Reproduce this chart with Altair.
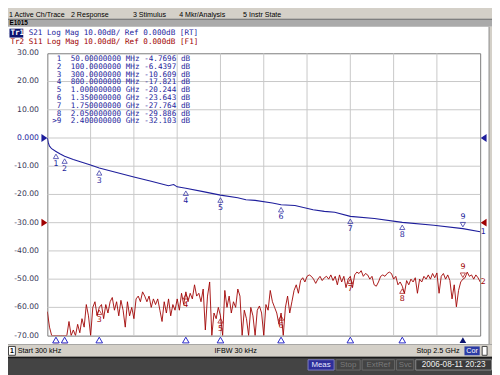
import altair as alt
import pandas as pd

# reference pixel of the plot origin (top-left of the graticule)
OX, OY = 48, 51
PW, PH = 440, 287

BLUE = "#1e1e9c"
RED = "#a00000"
NAVY = "#0c1470"
PANEL = "#d4d0c8"
LBL = "#383858"

# ---------------- data ----------------
START_GHZ, STOP_GHZ = 0.0003, 2.5

s21_freq = [0.0003, 0.005, 0.012, 0.025, 0.05, 0.075, 0.1, 0.15, 0.2, 0.25, 0.3,
            0.4, 0.5, 0.6, 0.7, 0.73, 0.75, 0.8, 0.9, 1.0, 1.1, 1.147, 1.2, 1.3,
            1.35, 1.43, 1.535, 1.6, 1.66, 1.75, 1.889, 2.05, 2.232, 2.4, 2.5]
s21_db = [0.0, -1.5, -2.8, -3.8, -4.77, -5.7, -6.44, -7.6, -8.6, -9.6, -10.61,
          -12.2, -13.8, -15.3, -16.9, -16.5, -17.3, -17.82, -19.0, -20.24, -21.2, -21.9,
          -22.1, -23.0, -23.64, -23.9, -25.4, -26.0, -26.3, -27.76, -28.5, -29.89,
          -30.9, -32.1, -33.2]

s11_db = [
    -61.5, -67, -70, -70, -70, -70, -70, -70, -70, -70,
    -65, -70, -68, -70, -66, -69, -64, -67, -59, -63,
    -70, -60, -58, -63, -60, -59, -64, -59, -62, -58,
    -56.5, -61, -58, -63, -57.5, -61, -67, -58, -63, -60,
    -64, -57, -56, -58, -54.5, -56, -58, -56, -60, -57,
    -59, -57, -61, -65, -58, -62, -57, -63, -59, -61,
    -57, -61, -55, -59, -54.5, -58, -55, -57, -52, -56,
    -55, -58, -53.5, -68, -56, -51, -70, -62, -64, -60,
    -63, -70, -54, -60, -56, -62, -58, -60, -53.5, -56,
    -70, -61, -64, -70, -60, -63, -70, -61, -59.5, -62,
    -70, -59, -61, -54, -58, -60, -62, -66, -62, -70,
    -60, -56, -62, -58, -54, -52, -55, -50.5, -49.5, -51,
    -49, -48.5, -49, -50, -51.5, -50, -49, -50.5, -49.5, -49,
    -50, -48.5, -50.5, -49, -52, -48.5, -51, -49, -53, -50,
    -49, -53, -48.5, -47.5, -48, -47, -49, -48, -48.5, -50,
    -49, -52, -52.5, -51, -49, -48.5, -49, -48, -47.5, -48,
    -50, -49, -52, -51, -52.5, -55, -50.5, -52, -50, -51,
    -49.5, -55, -50, -51, -49, -50, -48.5, -50, -48, -49.5,
    -47.8, -55, -49, -48, -50, -48.5, -50.5, -57, -52, -59.8,
    -54, -51, -50, -49.5, -47.5, -49, -48.5, -50, -48.5, -49.5,
    -51,
]
n_pts = len(s11_db)
s11_freq = [START_GHZ + i * (STOP_GHZ - START_GHZ) / (n_pts - 1) for i in range(n_pts)]

marker_ids = ["1", "2", "3", "4", "5", "6", "7", "8", "9"]
marker_tags = [" 1", " 2", " 3", " 4", " 5", " 6", " 7", " 8", ">9"]
marker_freq = [0.05, 0.1, 0.3, 0.8, 1.0, 1.35, 1.75, 2.05, 2.4]
marker_freq_text = ["50.00000000", "100.0000000", "300.0000000", "800.0000000",
                    "1.000000000", "1.350000000", "1.750000000", "2.050000000",
                    "2.400000000"]
marker_unit = ["MHz", "MHz", "MHz", "MHz", "GHz", "GHz", "GHz", "GHz", "GHz"]
marker_s21 = [-4.7696, -6.4397, -10.609, -17.821, -20.244, -23.643, -27.764, -29.886, -32.103]
marker_s21_text = ["-4.7696", "-6.4397", "-10.609", "-17.821", "-20.244",
                   "-23.643", "-27.764", "-29.886", "-32.103"]
marker_s11 = [-70, -70, -60, -54.5, -63, -62, -49, -52.5, -50]
marker_active = [False, False, False, False, False, False, False, False, True]

y_ticks = [30, 20, 10, 0, -10, -20, -30, -40, -50, -60, -70]
y_tick_text = ["30.00", "20.00", "10.00", "0.000", "-10.00", "-20.00", "-30.00",
               "-40.00", "-50.00", "-60.00", "-70.00"]
y_grid = [20, 10, 0, -10, -20, -30, -40, -50, -60]
x_grid = [0.25, 0.5, 0.75, 1.0, 1.25, 1.5, 1.75, 2.0, 2.25]

ref_levels = [0, -30]
ref_traces = ["S21", "S11"]

menu_items = ["1 Active Ch/Trace", "2 Response", "3 Stimulus", "4 Mkr/Analysis", "5 Instr State"]
menu_x = [9, 72, 135, 182, 247]

# ---------------- helpers ----------------
xs = alt.Scale(domain=[START_GHZ, STOP_GHZ], nice=False, zero=False)
ys = alt.Scale(domain=[-70, 30], nice=False, zero=False)
trace_color = alt.Scale(domain=["S21", "S11"], range=[BLUE, RED])

ONE = pd.DataFrame({"k": [0]})


def box(x1, y1, x2, y2, fill, stroke=None):
    kw = dict(fill=fill, opacity=1)
    if stroke:
        kw.update(stroke=stroke, strokeWidth=1)
    else:
        kw.update(strokeWidth=0)
    return alt.Chart(ONE).mark_rect(**kw).encode(
        x=alt.value(x1 - OX), x2=alt.value(x2 - OX),
        y=alt.value(y1 - OY), y2=alt.value(y2 - OY))


def txt(s, x, y, color="#000000", size=7.5, font="Liberation Sans", align="left", weight="normal"):
    return alt.Chart(ONE).mark_text(
        text=s, align=align, baseline="middle", fontSize=size, font=font,
        color=color, fontWeight=weight).encode(x=alt.value(x - OX), y=alt.value(y - OY))


X = lambda f="f": alt.X(f"{f}:Q", scale=xs, axis=None)
Y = lambda f: alt.Y(f"{f}:Q", scale=ys, axis=None)

layers = []

# ---------------- window chrome ----------------
layers += [
    box(-10, -10, 510, 16, PANEL),
    box(-10, 16, 510, 16.8, "#404040"),
    box(-10, 16.8, 510, 24, "#aaaaaa"),
    box(497, 24, 510, 347, PANEL),
    box(496.5, 24, 497.5, 347, "#8a8a8a"),
    box(-10, 346.5, 510, 359.5, PANEL),
    box(-10, 346.5, 510, 347.3, "#9a9a9a"),
    box(-10, 359.5, 510, 380, "#444444"),
    box(-10, 359.5, 510, 361, "#1a1a1a"),
]
for s, x in zip(menu_items, menu_x):
    layers.append(txt(s, x, 12.2, size=7.2))
layers.append(txt("E1015", 9.5, 20.6, size=6.5, weight="bold"))

# trace header
layers += [
    alt.Chart(ONE).mark_point(shape="M-0.7,-1L0.7,0L-0.7,1Z", size=64, filled=True,
                              color=NAVY, opacity=1).encode(
        x=alt.value(5.5 - OX), y=alt.value(30.5 - OY)),
    box(9.5, 26, 23.5, 35, NAVY),
    txt("Tr1", 10.5, 30.5, color="#ffffff", size=7.75, font="DejaVu Sans Mono", weight="bold"),
    txt("S21 Log Mag 10.00dB/ Ref 0.000dB [RT]", 29, 30.5, color=BLUE, size=7.75,
        font="DejaVu Sans Mono"),
    txt("Tr2 S11 Log Mag 10.00dB/ Ref 0.000dB [F1]", 10.5, 39.5, color=RED, size=7.75,
        font="DejaVu Sans Mono"),
]

# ---------------- graticule ----------------
layers.append(alt.Chart(pd.DataFrame({"f": x_grid})).mark_rule(
    color="#c8c8c8", strokeWidth=1).encode(x=X(), y=alt.value(0), y2=alt.value(PH)))
layers.append(alt.Chart(pd.DataFrame({"v": y_grid})).mark_rule(
    color="#c8c8c8", strokeWidth=1).encode(y=Y("v"), x=alt.value(0), x2=alt.value(PW)))

# y labels
ylab = pd.DataFrame({"v": y_ticks, "t": y_tick_text})
layers.append(alt.Chart(ylab).mark_text(
    align="right", baseline="middle", fontSize=7.8, font="DejaVu Sans").encode(
    y=Y("v"), x=alt.value(39.5 - OX), text="t:N",
    color=alt.condition("datum.v == 0", alt.value(BLUE), alt.value(LBL))))

# reference level arrows
refdf = pd.DataFrame({"db": ref_levels, "trace": ref_traces})
layers.append(alt.Chart(refdf).mark_point(
    shape="M-0.75,-1L0.75,0L-0.75,1Z", size=64, filled=True, opacity=1).encode(
    x=alt.value(-3), y=Y("db"), color=alt.Color("trace:N", scale=trace_color, legend=None)))
layers.append(alt.Chart(refdf).mark_point(
    shape="M0.75,-1L-0.75,0L0.75,1Z", size=64, filled=True, opacity=1).encode(
    x=alt.value(PW + 3.5), y=Y("db"), color=alt.Color("trace:N", scale=trace_color, legend=None)))

# ---------------- traces ----------------
s11df = pd.DataFrame({"f": s11_freq, "db": s11_db})
layers.append(alt.Chart(s11df).mark_line(color=RED, strokeWidth=1, clip=True, opacity=0.9).encode(
    x=X(), y=Y("db")))
s21df = pd.DataFrame({"f": s21_freq, "db": s21_db})
layers.append(alt.Chart(s21df).mark_line(color=BLUE, strokeWidth=1.1, clip=True).encode(
    x=X(), y=Y("db")))

# trace end labels
ends = pd.DataFrame({"db": [s21_db[-1], s11_db[-1]], "t": ["1", "2"], "trace": ref_traces})
layers.append(alt.Chart(ends).mark_text(align="left", baseline="middle", fontSize=8,
                                        font="DejaVu Sans").encode(
    x=alt.value(488.5 - OX), y=Y("db"), text="t:N",
    color=alt.Color("trace:N", scale=trace_color, legend=None)))

# ---------------- markers ----------------
mk = pd.DataFrame({"id": marker_ids, "tag": marker_tags, "f": marker_freq,
                   "ft": marker_freq_text, "unit": marker_unit, "s21": marker_s21,
                   "s21t": marker_s21_text, "s11": marker_s11, "active": marker_active,
                   "row": list(range(len(marker_ids)))})
mbase = alt.Chart(mk)
inactive = "!datum.active"
active = "datum.active"

for fld, col, lab_filter in [("s11", RED, "datum.row >= 2"), ("s21", BLUE, "true")]:
    layers.append(mbase.transform_filter(inactive).mark_point(
        shape="triangle-up", size=28, filled=False, color=col, strokeWidth=1, yOffset=5,
        clip=False).encode(x=X(), y=Y(fld)))
    layers.append(mbase.transform_filter(inactive).transform_filter(lab_filter).mark_text(
        fontSize=8, font="DejaVu Sans", color=col, yOffset=13, baseline="middle").encode(
        x=X(), y=Y(fld), text="id:N"))
    layers.append(mbase.transform_filter(active).mark_point(
        shape="triangle-down", size=28, filled=False, color=col, strokeWidth=1, yOffset=-4).encode(
        x=X(), y=Y(fld)))
    layers.append(mbase.transform_filter(active).mark_text(
        fontSize=8, font="DejaVu Sans", color=col, yOffset=-12, baseline="middle").encode(
        x=X(), y=Y(fld), text="id:N"))

# marker position indicators below the graticule
layers.append(mbase.transform_filter(inactive).mark_point(
    shape="triangle-up", size=45, filled=True, fill="#ffffff", stroke="#2828c8",
    strokeWidth=1, opacity=1).encode(x=X(), y=alt.value(PH + 4.5)))
layers.append(mbase.transform_filter(active).mark_point(
    shape="triangle-up", size=45, filled=True, color=NAVY, opacity=1).encode(
    x=X(), y=alt.value(PH + 4.5)))

# marker table
tbl = mbase.transform_calculate(py=f"{56.7 - OY} + 7.95 * datum.row")
ty = alt.Y("py:Q", scale=None)
for field, xref, align in [("tag", 62.3, "right"), ("ft", 71.7, "left"), ("unit", 127.7, "left"),
                           ("s21t", 146.4, "left")]:
    layers.append(tbl.mark_text(align=align, baseline="middle", fontSize=7.75,
                                font="DejaVu Sans Mono", color=BLUE).encode(
        x=alt.value(xref - OX), y=ty, text=f"{field}:N"))
layers.append(tbl.mark_text(text="dB", align="left", baseline="middle", fontSize=7.75,
                            font="DejaVu Sans Mono", color=BLUE).encode(
    x=alt.value(183.8 - OX), y=ty))

# ---------------- status bars ----------------
layers += [
    box(8.5, 349, 15.5, 358, "#ffffff", "#404040"),
    txt("1", 12, 353.5, size=7, align="center", weight="bold"),
    txt("Start 300 kHz", 18, 353.5, size=7.3),
    txt("IFBW 30 kHz", 218, 353.5, size=7.3),
    txt("Stop 2.5 GHz", 467, 353.5, size=7.3, align="right"),
    box(472, 349, 487.5, 358, "#2b3ba5"),
    txt("Cor", 479.8, 353.5, color="#ffffff", size=7.3, align="center"),
    box(490, 349, 495, 358, "#ffffff", "#404040"),
    box(313, 362.5, 339.5, 373, "#2e2e9a", "#8080c0"),
    txt("Meas", 326.2, 367.8, color="#e8e8ff", size=8, align="center"),
    box(341.5, 362.5, 366, 373, "#444444", "#6a6a6a"),
    txt("Stop", 353.8, 367.8, color="#7a7a7a", size=8, align="center"),
    box(368, 362.5, 401, 373, "#444444", "#6a6a6a"),
    txt("ExtRef", 384.5, 367.8, color="#7a7a7a", size=8, align="center"),
    box(403, 362.5, 420.5, 373, "#444444", "#6a6a6a"),
    txt("Svc", 411.8, 367.8, color="#7a7a7a", size=8, align="center"),
    box(422.5, 362.5, 499.5, 373, "#3a3a3a", "#8a8a8a"),
    txt("2006-08-11 20:23", 461, 367.8, color="#f0f0f0", size=8.3, align="center"),
]

chart = alt.layer(*layers).properties(
    width=PW, height=PH,
    padding={"left": OX - 8, "top": OY - 8, "right": 492 - (OX - 8) - PW,
             "bottom": 367 - (OY - 8) - PH},
    autosize=alt.AutoSizeParams(type="none"),
    background="#ffffff",
).configure_view(stroke="#7a7a7a", strokeWidth=1)

chart.save("out.html", embed_options={"renderer": "svg", "actions": False})
